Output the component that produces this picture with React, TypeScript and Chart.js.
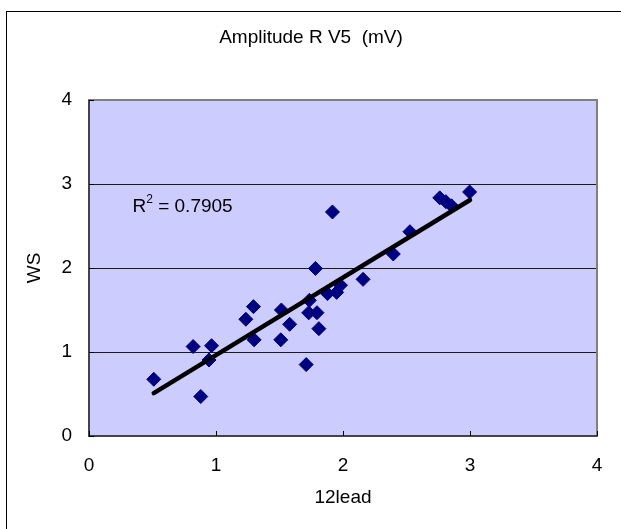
import React, { useEffect, useRef } from "react";
import { Chart, registerables } from "chart.js";

Chart.register(...registerables);

// ---- data ----
const xValues = [
  0.51, 0.88, 0.82, 0.965, 0.945, 1.235, 1.295, 1.3, 1.51, 1.515, 1.58, 1.71, 1.735, 1.73,
  1.795, 1.81, 1.783, 1.917, 1.878, 1.95, 1.98, 2.158, 2.396, 2.527, 2.762, 2.81, 2.855, 2.997,
];
const yValues = [
  0.675, 0.47, 1.065, 1.075, 0.905, 1.39, 1.54, 1.145, 1.145, 1.5, 1.33, 0.85, 1.615, 1.466,
  1.468, 1.278, 1.995, 2.667, 1.695, 1.71, 1.795, 1.865, 2.167, 2.432, 2.835, 2.79, 2.74, 2.905,
];
const trendX = [0.51, 3.0];
const trendY = [0.51, 2.81];
const xTicks = [0, 1, 2, 3, 4];
const yTicks = [0, 1, 2, 3, 4];
const titleText = "Amplitude R V5  (mV)";
const xTitle = "12lead";
const yTitle = "WS";
const r2Value = "0.7905";

const FONT = "'Liberation Sans', Arial, Helvetica, sans-serif";

const decor = {
  id: "decor",
  beforeDraw(chart: any) {
    const { ctx, chartArea: a, width, height } = chart;
    ctx.save();
    ctx.fillStyle = "#ffffff";
    ctx.fillRect(0, 0, width, height);
    ctx.strokeStyle = "#000000";
    ctx.lineWidth = 1;
    ctx.strokeRect(6.5, 11.5, width + 40, height + 40);
    ctx.fillStyle = "#CCCCFF";
    ctx.fillRect(a.left, a.top, a.right - a.left, a.bottom - a.top);
    ctx.restore();
  },
  beforeDatasetsDraw(chart: any) {
    const { ctx, chartArea: a, scales } = chart;
    ctx.save();
    // plot border
    ctx.strokeStyle = "#808080";
    ctx.lineWidth = 2;
    ctx.strokeRect(a.left, a.top, a.right - a.left, a.bottom - a.top);
    // axis lines
    ctx.strokeStyle = "#303030";
    ctx.lineWidth = 1.5;
    ctx.beginPath();
    ctx.moveTo(a.left, a.top);
    ctx.lineTo(a.left, a.bottom);
    ctx.lineTo(a.right, a.bottom);
    ctx.stroke();
    // inward tick marks
    ctx.strokeStyle = "#000000";
    ctx.lineWidth = 1;
    ctx.beginPath();
    xTicks.forEach((v) => {
      const px = Math.round(scales.x.getPixelForValue(v)) + 0.5;
      ctx.moveTo(px, a.bottom);
      ctx.lineTo(px, a.bottom - 5);
    });
    yTicks.forEach((v) => {
      const py = Math.round(scales.y.getPixelForValue(v)) + 0.5;
      ctx.moveTo(a.left, py);
      ctx.lineTo(a.left + 5, py);
    });
    ctx.stroke();
    ctx.restore();
  },
  afterDraw(chart: any) {
    const { ctx, chartArea: a, width } = chart;
    ctx.save();
    ctx.fillStyle = "#000000";
    ctx.textBaseline = "alphabetic";
    // title
    ctx.font = `19px ${FONT}`;
    ctx.textAlign = "center";
    ctx.fillText(titleText, 311, 43);
    // x title
    ctx.fillText(xTitle, (a.left + a.right) / 2, 503);
    // y title
    ctx.save();
    ctx.translate(39.5, (a.top + a.bottom) / 2);
    ctx.rotate(-Math.PI / 2);
    ctx.fillText(yTitle, 0, 0);
    ctx.restore();
    // R² label
    ctx.textAlign = "left";
    let x = a.left + 43.5;
    const base = a.top + 112.3;
    ctx.font = `19px ${FONT}`;
    ctx.fillText("R", x, base);
    x += ctx.measureText("R").width;
    ctx.font = `12px ${FONT}`;
    ctx.fillText("2", x, base - 9.5);
    x += ctx.measureText("2").width;
    ctx.font = `19px ${FONT}`;
    ctx.fillText(" = " + r2Value, x, base);
    ctx.restore();
  },
};

export default function App() {
  const ref = useRef<HTMLCanvasElement | null>(null);

  useEffect(() => {
    if (!ref.current) return;
    const points = xValues.map((x, i) => ({ x, y: yValues[i] }));
    const trend = trendX.map((x, i) => ({ x, y: trendY[i] }));
    const chart = new Chart(ref.current, {
      type: "scatter",
      data: {
        datasets: [
          {
            label: "trend",
            data: trend,
            showLine: true,
            borderColor: "#000000",
            borderWidth: 4.5,
            borderCapStyle: "round",
            pointRadius: 0,
            pointHoverRadius: 0,
            order: 0,
          } as any,
          {
            label: "points",
            data: points,
            pointStyle: "rectRot",
            pointRadius: 7,
            pointHoverRadius: 7,
            backgroundColor: "#000080",
            borderColor: "#000080",
            borderWidth: 1,
            order: 1,
          } as any,
        ],
      },
      options: {
        animation: false,
        responsive: false,
        devicePixelRatio: 1,
        layout: { padding: { left: 0, top: 100, right: 24, bottom: 0 } },
        plugins: {
          legend: { display: false },
          tooltip: { enabled: false },
          title: { display: false },
        },
        scales: {
          x: {
            type: "linear",
            min: 0,
            max: 4,
            afterFit: (s: any) => {
              s.height = 93;
            },
            afterBuildTicks: (s: any) => {
              s.ticks = xTicks.map((v) => ({ value: v }));
            },
            grid: { display: false, drawTicks: false },
            border: { display: false },
            ticks: {
              padding: 18,
              color: "#000000",
              font: { family: FONT, size: 19 },
              maxRotation: 0,
            },
          },
          y: {
            type: "linear",
            min: 0,
            max: 4,
            afterFit: (s: any) => {
              s.width = 89;
            },
            afterBuildTicks: (s: any) => {
              s.ticks = yTicks.map((v) => ({ value: v }));
            },
            grid: {
              drawTicks: false,
              color: (c: any) =>
                c.tick && c.tick.value > 0 && c.tick.value < 4 ? "#1a1a1a" : "rgba(0,0,0,0)",
              lineWidth: 1,
            },
            border: { display: false },
            ticks: {
              padding: 17,
              color: "#000000",
              font: { family: FONT, size: 19 },
            },
          },
        },
      },
      plugins: [decor],
    });
    return () => chart.destroy();
  }, []);

  return (
    <div style={{ position: "absolute", left: 0, top: 0, width: 621, height: 529 }}>
      <canvas ref={ref} width={621} height={529} style={{ display: "block", width: 621, height: 529 }} />
    </div>
  );
}
